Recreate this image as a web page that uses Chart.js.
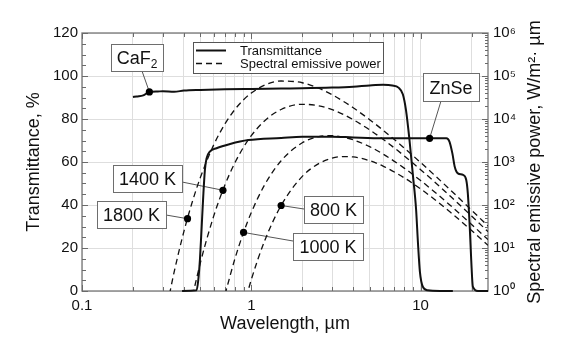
<!DOCTYPE html>
<html>
<head>
<meta charset="utf-8">
<script src="https://cdn.jsdelivr.net/npm/chart.js@4.4.1/dist/chart.umd.min.js"></script>
<style>
  html, body { margin: 0; padding: 0; background: #fff; }
  #wrap { width: 588px; height: 343px; }
</style>
</head>
<body>
<div id="wrap"><canvas id="spectraChart" width="588" height="343"></canvas></div>
<script>
// transmittance of the window materials, %
const caf2Wavelength = [0.2, 0.21, 0.23, 0.25, 0.28, 0.3, 0.35, 0.4, 0.5, 0.7, 1, 1.5, 2, 3, 4, 5, 6, 6.8, 7.4, 7.85, 8.2, 8.6, 9.0, 9.4, 9.65, 9.9, 10.3, 11, 13, 15.5];
const caf2Trans = [90.2, 90.5, 91.0, 92.6, 92.8, 92.9, 92.7, 93.2, 93.5, 93.8, 94.0, 94.2, 94.3, 94.6, 95.0, 95.6, 95.9, 95.6, 94.6, 91.5, 84, 70, 54, 38, 22, 9, 2, 0.3, 0, 0];
const znseWavelength = [0.39, 0.475, 0.486, 0.497, 0.508, 0.52, 0.532, 0.544, 0.569, 0.623, 0.75, 0.96, 1.5, 2, 3, 4, 6, 8, 11.3, 14.2, 14.8, 15.4, 15.9, 16.6, 17.8, 18.6, 19.0, 19.5, 19.9, 20.35, 21.8, 25];
const znseTrans = [0, 0.3, 5, 14.4, 28.4, 43.9, 56.3, 61.7, 64.8, 66.4, 68.4, 70.2, 71.2, 71.8, 71.8, 71.4, 71.0, 71.0, 71.0, 71.0, 69.5, 64, 57.8, 54.7, 54, 51.6, 45.4, 29.9, 14.4, 2, 0, 0];

// blackbody spectral emissive power, W/(m2 um)
const bbWavelength = [0.32, 0.35, 0.4, 0.45, 0.5, 0.6, 0.7, 0.8, 0.9, 1, 1.2, 1.5, 2, 2.5, 3, 3.5, 4, 5, 6, 8, 10, 12, 15, 20, 25];
const power1800 = [0.5, 2.74, 24.4, 124.6, 434.7, 2507, 7789, 16640, 28030, 40210, 61320, 76430, 69690, 51960, 36680, 25730, 18240, 9659, 5492, 2118, 973, 505.6, 222.9, 75.8, 32.4];
const power1400 = [null, null, null, 0.78, 4.51, 55.8, 298.1, 957.7, 2216, 4098, 9141, 16610, 21970, 20330, 16475, 12704, 9645, 5597, 3371, 1391, 663.7, 353.3, 159.4, 55.4, 24.0];
const power1000 = [null, null, null, null, null, null, 0.84, 5.62, 23.0, 67.1, 296.9, 1070, 2798, 3874, 4084, 3781, 3277, 2273, 1532, 721.2, 370.3, 206.6, 97.4, 35.3, 15.7];
const power800 = [null, null, null, null, null, null, null, null, 0.42, 1.84, 14.83, 97.3, 462.7, 917, 1224, 1339, 1312, 1074, 804.4, 429.1, 236.3, 137.7, 67.7, 25.5, 11.58];

// marked points that the callouts point at
const markTransWavelength = [0.25, 11.3];
const markTransValue = [92.6, 71.0];
const markPowerWavelength = [0.42, 0.68, 0.9, 1.5];
const markPowerValue = [48, 220, 23.0, 97.3];

// axis ticks
const xTicks = [0.1, 0.2, 0.3, 0.4, 0.5, 0.6, 0.7, 0.8, 0.9, 1, 2, 3, 4, 5, 6, 7, 8, 9, 10, 20];
const xLabelled = [0.1, 1, 10];
const powerDecades = [1, 10, 100, 1000, 10000, 100000, 1000000];
const supDigits = ['\u2070', '\u00b9', '\u00b2', '\u00b3', '\u2074', '\u2075', '\u2076'];

const FONT = "'Liberation Sans', Arial, sans-serif";
const INK = '#111';

// callout boxes: [left, top, width, height], leader start, [dataset, point] of the dot
const callouts = [
  { text: 'CaF', sub: '2', box: [111, 44, 52, 27], from: [142, 71], dot: [6, 0] },
  { text: 'ZnSe', box: [423, 73, 56, 28], from: [441, 101], dot: [6, 1] },
  { text: '1800 K', box: [97, 201, 69, 27], from: [166, 215], dot: [7, 0] },
  { text: '1400 K', box: [113, 165, 69, 27], from: [182, 182], dot: [7, 1] },
  { text: '1000 K', box: [293, 233, 70, 27], from: [293, 241], dot: [7, 2] },
  { text: '800 K', box: [304, 196, 59, 27], from: [304, 209], dot: [7, 3] }
];

const toPoints = (xs, ys) => xs.map((x, i) => ({ x: x, y: ys[i] })).filter(p => p.y !== null);

const solid = {
  borderColor: INK, borderWidth: 2, pointRadius: 0, cubicInterpolationMode: 'monotone',
  yAxisID: 'y', clip: { left: 0, top: 0, right: 0, bottom: 2 }, order: 2
};
const dashed = {
  borderColor: INK, borderWidth: 1.3, borderDash: [6, 4], pointRadius: 0, cubicInterpolationMode: 'monotone',
  yAxisID: 'y2', clip: 0, order: 3
};
const dots = {
  type: 'scatter', showLine: false, pointRadius: 3.6, pointBackgroundColor: '#000',
  pointBorderColor: '#000', borderWidth: 0, order: 0
};

function tick(ctx, x1, y1, x2, y2) {
  ctx.moveTo(x1, y1);
  ctx.lineTo(x2, y2);
}

const decorations = {
  id: 'decorations',
  beforeDatasetsDraw(chart) {
    const { ctx, chartArea: a, scales } = chart;
    ctx.save();

    // frame
    ctx.strokeStyle = '#808080';
    ctx.lineWidth = 1.4;
    ctx.strokeRect(a.left, a.top, a.width, a.height);

    // inward tick marks on all four sides
    ctx.strokeStyle = '#6a6a6a';
    ctx.lineWidth = 1;
    ctx.beginPath();
    xTicks.forEach(v => {
      const px = Math.round(scales.x.getPixelForValue(v)) + 0.5;
      const len = xLabelled.includes(v) ? 6 : 4;
      tick(ctx, px, a.bottom, px, a.bottom - len);
      tick(ctx, px, a.top, px, a.top + len);
    });
    for (let v = 0; v <= 120; v += 5) {
      const py = Math.round(scales.y.getPixelForValue(v)) + 0.5;
      tick(ctx, a.left, py, a.left + (v % 20 === 0 ? 6 : 4), py);
    }
    powerDecades.forEach((d, i) => {
      const last = i === powerDecades.length - 1;
      for (let m = 1; m <= (last ? 1 : 9); m++) {
        const py = Math.round(scales.y2.getPixelForValue(d * m)) + 0.5;
        tick(ctx, a.right, py, a.right - (m === 1 ? 6 : 3), py);
      }
    });
    ctx.stroke();

    // leader lines from the callout boxes to the dots
    ctx.strokeStyle = '#555';
    ctx.lineWidth = 1;
    ctx.beginPath();
    callouts.forEach(c => {
      const el = chart.getDatasetMeta(c.dot[0]).data[c.dot[1]];
      tick(ctx, c.from[0], c.from[1], el.x, el.y);
    });
    ctx.stroke();
    ctx.restore();
  },
  afterDatasetsDraw(chart) {
    const { ctx } = chart;
    ctx.save();

    // legend
    ctx.fillStyle = '#fff';
    ctx.fillRect(193, 42, 190, 31);
    ctx.strokeStyle = '#555';
    ctx.lineWidth = 1;
    ctx.strokeRect(193.5, 42.5, 190, 31);
    ctx.strokeStyle = INK;
    ctx.lineWidth = 2;
    ctx.beginPath();
    tick(ctx, 196, 50.5, 226, 50.5);
    ctx.stroke();
    ctx.lineWidth = 1.3;
    ctx.setLineDash([6, 4]);
    ctx.beginPath();
    tick(ctx, 196, 63.5, 226, 63.5);
    ctx.stroke();
    ctx.setLineDash([]);
    ctx.fillStyle = INK;
    ctx.font = '13px ' + FONT;
    ctx.textBaseline = 'middle';
    ctx.textAlign = 'left';
    ctx.fillText('Transmittance', 240, 51);
    ctx.fillText('Spectral emissive power', 240, 64);

    // callout boxes
    callouts.forEach(c => {
      const [x, y, w, h] = c.box;
      ctx.fillStyle = '#fff';
      ctx.fillRect(x, y, w, h);
      ctx.strokeStyle = '#6e6e6e';
      ctx.lineWidth = 1;
      ctx.strokeRect(x + 0.5, y + 0.5, w, h);
      ctx.fillStyle = INK;
      ctx.textBaseline = 'alphabetic';
      ctx.font = '18px ' + FONT;
      const main = ctx.measureText(c.text).width;
      let subW = 0;
      if (c.sub) {
        ctx.font = '12px ' + FONT;
        subW = ctx.measureText(c.sub).width;
      }
      const x0 = x + w / 2 - (main + subW) / 2;
      const base = y + h / 2 + 6.5;
      ctx.font = '18px ' + FONT;
      ctx.fillText(c.text, x0, base);
      if (c.sub) {
        ctx.font = '12px ' + FONT;
        ctx.fillText(c.sub, x0 + main, base + 4);
      }
    });
    ctx.restore();
  },
  afterDraw(chart) {
    const { ctx, chartArea: a } = chart;
    ctx.save();
    ctx.translate(a.right + 47, (a.top + a.bottom) / 2);
    ctx.rotate(-Math.PI / 2);
    ctx.textAlign = 'center';
    ctx.textBaseline = 'middle';
    ctx.font = '18px ' + FONT;
    ctx.fillStyle = INK;
    ctx.fillText('Spectral emissive power, W/m\u00b2\u00b7 \u00b5m', 0, 0);
    ctx.restore();
  }
};

const ctx = document.getElementById('spectraChart').getContext('2d');
new Chart(ctx, {
  type: 'line',
  data: {
    datasets: [
      { label: 'CaF2', data: toPoints(caf2Wavelength, caf2Trans), ...solid },
      { label: 'ZnSe', data: toPoints(znseWavelength, znseTrans), ...solid },
      { label: '1800 K', data: toPoints(bbWavelength, power1800), ...dashed },
      { label: '1400 K', data: toPoints(bbWavelength, power1400), ...dashed },
      { label: '1000 K', data: toPoints(bbWavelength, power1000), ...dashed },
      { label: '800 K', data: toPoints(bbWavelength, power800), ...dashed },
      { label: 'marks T', data: toPoints(markTransWavelength, markTransValue), yAxisID: 'y', ...dots },
      { label: 'marks E', data: toPoints(markPowerWavelength, markPowerValue), yAxisID: 'y2', ...dots }
    ]
  },
  options: {
    responsive: false,
    animation: false,
    layout: { padding: { top: 33, left: 0, right: 0, bottom: 0 } },
    plugins: { legend: { display: false }, tooltip: { enabled: false } },
    scales: {
      x: {
        type: 'logarithmic',
        min: 0.1,
        max: 25,
        afterBuildTicks: s => { s.ticks = xTicks.map(v => ({ value: v })); },
        afterFit: s => { s.height = 52; },
        grid: { color: '#dedede', lineWidth: 1, drawTicks: false },
        border: { display: false },
        ticks: {
          autoSkip: false, maxRotation: 0, padding: 6, color: INK,
          font: { family: FONT, size: 15 },
          callback: v => (xLabelled.includes(v) ? String(v) : '')
        },
        title: {
          display: true, text: 'Wavelength, \u00b5m', color: INK,
          font: { family: FONT, size: 18 }, padding: { top: 0, bottom: 8 }
        }
      },
      y: {
        position: 'left',
        min: 0,
        max: 120,
        afterFit: s => { s.width = 82; },
        grid: { color: '#dedede', lineWidth: 1, drawTicks: false },
        border: { display: false },
        ticks: { stepSize: 20, padding: 4, color: INK, font: { family: FONT, size: 15 } },
        title: {
          display: true, text: 'Transmittance, %', color: INK,
          font: { family: FONT, size: 18 }, padding: { top: 23, bottom: 0 }
        }
      },
      y2: {
        type: 'logarithmic',
        position: 'right',
        min: 1,
        max: 1000000,
        afterBuildTicks: s => { s.ticks = powerDecades.map(v => ({ value: v })); },
        afterFit: s => { s.width = 100; },
        grid: { display: false, drawTicks: false },
        border: { display: false },
        ticks: {
          padding: 5, color: INK, font: { family: FONT, size: 15 },
          callback: v => '10' + supDigits[Math.round(Math.log10(v))]
        }
      }
    }
  },
  plugins: [decorations]
});
</script>
</body>
</html>
